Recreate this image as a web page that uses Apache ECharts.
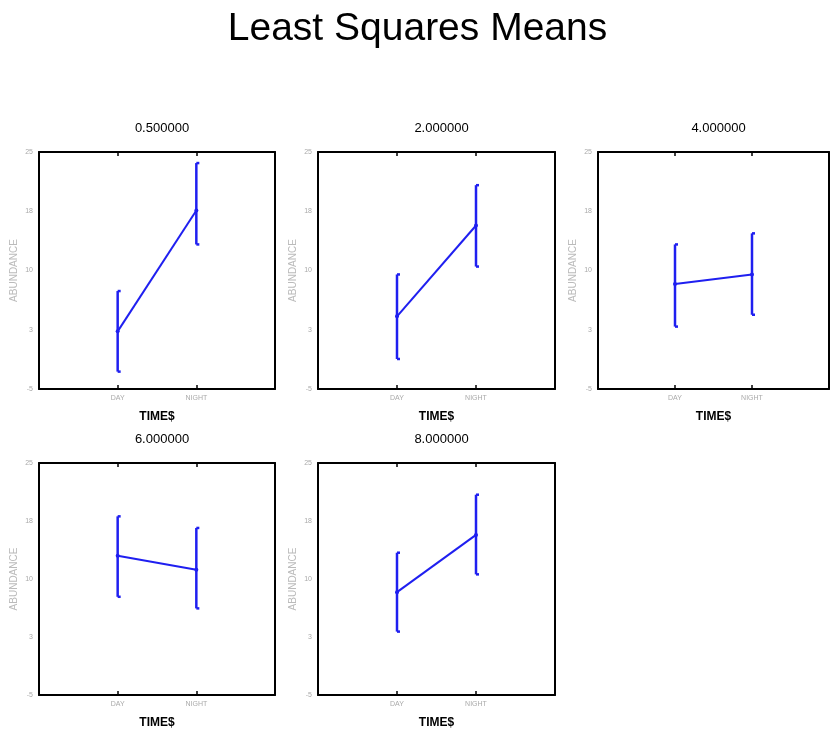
<!DOCTYPE html>
<html>
<head>
<meta charset="utf-8">
<script src="https://cdn.jsdelivr.net/npm/echarts@6/dist/echarts.min.js"></script>
<style>
  html, body { margin: 0; padding: 0; background: #fff; }
  #chart { width: 835px; height: 730px; }
</style>
</head>
<body>
<div id="chart"></div>
<script>
// panel titles, categories and values
const panels = ['0.500000', '2.000000', '4.000000', '6.000000', '8.000000']
const times = ['DAY', 'NIGHT']
const means = [[2.3, 17.6], [4.2, 15.7], [8.3, 9.5], [13.0, 11.2], [8.3, 15.7]]
const upper = [[7.4, 23.6], [9.5, 20.8], [13.3, 14.7], [18.1, 16.6], [13.4, 20.9]]
const lower = [[-2.8, 13.3], [-1.2, 10.5], [2.9, 4.4], [7.7, 6.2], [3.2, 10.6]]
const yTicks = ['-5', '3', '10', '18', '25']

// grid boxes (left, top, width, height)
const boxes = [
  [39, 152, 236, 237],
  [318, 152, 237, 237],
  [598, 152, 231, 237],
  [39, 463, 236, 237],
  [318, 463, 237, 237]
]

const xCats = [''].concat(times, [''])
const lineColor = '#1f1ff0'
const tickOnly = (i) => i === 1 || i === 2

const grid = []
const xAxis = []
const yAxis = []
const series = []
const title = [{
  text: 'Least Squares Means',
  left: 'center',
  top: 5,
  textStyle: { fontFamily: 'Liberation Sans', fontSize: 39, fontWeight: 'normal', color: '#000' }
}]

panels.forEach((name, p) => {
  const [l, t, w, h] = boxes[p]
  grid.push({ left: l, top: t, width: w, height: h })
  title.push({
    text: name,
    left: l + w / 2,
    top: t - 35,
    textAlign: 'center',
    textStyle: { fontFamily: 'Liberation Sans', fontSize: 13, fontWeight: 'normal', color: '#000' }
  })
  const axisLine = { show: true, onZero: false, lineStyle: { color: '#000', width: 2 } }
  const axisTick = { inside: true, length: 4, lineStyle: { color: '#000', width: 1.5 } }
  // bottom axis
  xAxis.push({
    gridIndex: p,
    type: 'category',
    data: xCats,
    boundaryGap: false,
    position: 'bottom',
    axisLine,
    axisTick: Object.assign({ interval: tickOnly }, axisTick),
    axisLabel: { interval: 0, fontSize: 7, color: '#aaa', margin: 6, fontFamily: 'Liberation Sans' },
    name: 'TIME$',
    nameLocation: 'middle',
    nameGap: 22,
    nameTextStyle: { fontSize: 12, fontWeight: 'bold', color: '#000', fontFamily: 'Liberation Sans' },
    splitLine: { show: false }
  })
  // top axis, only ticks
  xAxis.push({
    gridIndex: p,
    type: 'category',
    data: xCats,
    boundaryGap: false,
    position: 'top',
    axisLine,
    axisTick: Object.assign({ interval: tickOnly }, axisTick),
    axisLabel: { show: false },
    splitLine: { show: false }
  })
  yAxis.push({
    gridIndex: p,
    type: 'value',
    min: -5,
    max: 25,
    interval: 7.5,
    position: 'left',
    axisLine,
    axisTick,
    axisLabel: {
      fontSize: 7, color: '#aaa', margin: 6, fontFamily: 'Liberation Sans',
      formatter: (v) => yTicks[Math.round((v + 5) / 7.5)]
    },
    name: 'ABUNDANCE',
    nameLocation: 'middle',
    nameGap: 20,
    nameTextStyle: { fontSize: 10, color: '#bbb', fontFamily: 'Liberation Sans' },
    splitLine: { show: false }
  })
  yAxis.push({
    gridIndex: p,
    type: 'value',
    min: -5,
    max: 25,
    interval: 7.5,
    position: 'right',
    axisLine,
    axisTick,
    axisLabel: { show: false },
    splitLine: { show: false }
  })

  series.push({
    type: 'line',
    xAxisIndex: p * 2,
    yAxisIndex: p * 2,
    data: times.map((c, i) => [c, means[p][i]]),
    symbol: 'circle',
    symbolSize: 4,
    lineStyle: { color: lineColor, width: 2 },
    itemStyle: { color: lineColor },
    silent: true
  })
  series.push({
    type: 'custom',
    xAxisIndex: p * 2,
    yAxisIndex: p * 2,
    data: times.map((c, i) => [c, lower[p][i], upper[p][i]]),
    renderItem: (params, api) => {
      const lo = api.coord([api.value(0), api.value(1)])
      const hi = api.coord([api.value(0), api.value(2)])
      const style = { stroke: lineColor, lineWidth: 2.5 }
      return {
        type: 'group',
        children: [
          { type: 'line', shape: { x1: lo[0], y1: lo[1], x2: hi[0], y2: hi[1] }, style },
          { type: 'line', shape: { x1: lo[0], y1: lo[1], x2: lo[0] + 3, y2: lo[1] }, style },
          { type: 'line', shape: { x1: hi[0], y1: hi[1], x2: hi[0] + 3, y2: hi[1] }, style }
        ]
      }
    },
    silent: true
  })
})

const chart = echarts.init(document.getElementById('chart'))
chart.setOption({
  backgroundColor: '#fff',
  animation: false,
  title,
  grid,
  xAxis,
  yAxis,
  series
})
</script>
</body>
</html>
